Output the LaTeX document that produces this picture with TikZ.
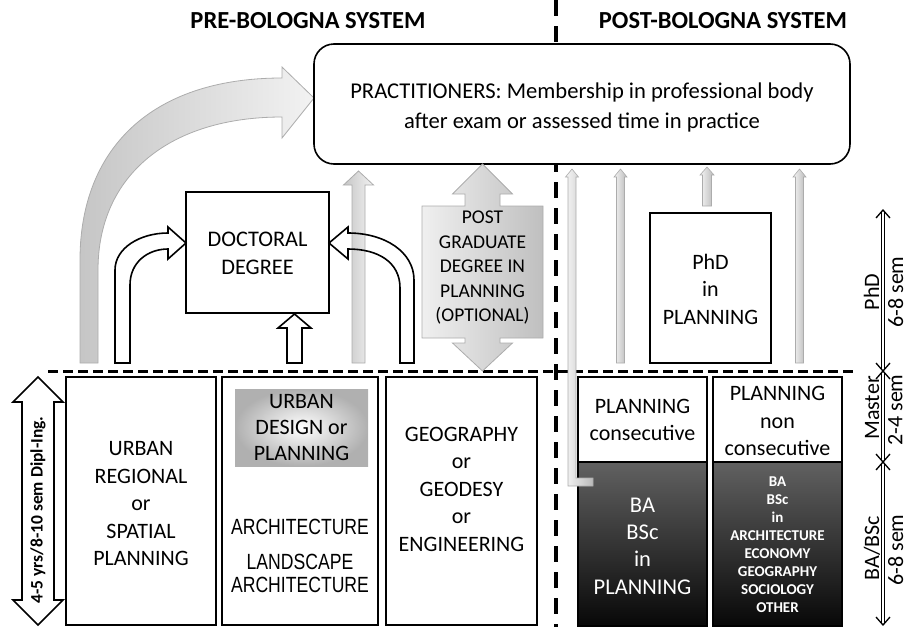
\documentclass[tikz,border=0pt]{standalone}
\usepackage{fontspec}
\setmainfont{Carlito}
\newfontfamily\narrowfont[FakeStretch=0.8]{Liberation Sans}
\usetikzlibrary{calc}
\newcommand\fsz[2]{\fontsize{#1}{#2}\selectfont}
% #1 style, #2 x centre, #3 y bottom, #4 y tip, #5 shaft half width, #6 head half width, #7 head length
\newcommand\myuparrow[7]{%
  \path[#1] ({#2-#5},#3) -- ({#2-#5},{#4+#7}) -- ({#2-#6},{#4+#7}) -- (#2,#4)
    -- ({#2+#6},{#4+#7}) -- ({#2+#5},{#4+#7}) -- ({#2+#5},#3) -- cycle;}
\begin{document}
\begin{tikzpicture}[x=1pt,y=-1pt,
  box/.style={draw, line width=1.6pt, fill=white, inner sep=0pt},
  txt/.style={align=center, inner sep=0pt, font=\fsz{22}{27.5}},
  title/.style={inner sep=0pt, font=\fsz{24.5}{28}\bfseries},
  vdash/.style={line width=3.3pt, dash pattern=on 16pt off 10pt},
  hdash/.style={line width=3pt, dash pattern=on 10pt off 5pt},
  garrow/.style={draw=gray!65, line width=0.8pt, left color=gray!45, right color=gray!10},
  thinarrow/.style={draw=gray!65, line width=0.6pt, left color=gray!8, right color=gray!55},
  warrow/.style={draw=black, line width=1.6pt, fill=white},
  pgarrow/.style={draw=gray!65, line width=0.8pt, left color=gray!12, right color=gray!50},
  darkbox/.style={draw=black, line width=1.2pt, inner sep=0pt, top color=black!62, middle color=black!52, bottom color=black!97},
  dbl/.style={double, double distance=2.4pt, line width=1pt},
  chev/.style={line width=1.3pt},
  rot/.style={rotate=90, inner sep=0pt, font=\fsz{22}{26}}
]
\useasboundingbox (0,0) rectangle (908,627);

% dashed separators
\coordinate (vt) at (556,0); \coordinate (vb) at (556,627);
\draw[vdash] (vt) -- (vb);
\coordinate (hl) at (48,371); \coordinate (hr) at (856,371);
\draw[hdash] (hl) -- (hr);

% titles
\node[title] (t1) at (308,21) {PRE-BOLOGNA SYSTEM};
\node[title] (t2) at (723,21) {POST-BOLOGNA SYSTEM};

% big curved grey arrow
\path[garrow] (80,363) -- (80,260) .. controls (80,150) and (150,78) .. (282,78)
  -- (282,67) -- (314,98) -- (282,138) -- (282,117)
  .. controls (170,117) and (98,175) .. (98,270) -- (98,363) -- cycle;

% practitioners
\node[box, rounded corners=20pt, minimum width=536pt, minimum height=120pt] (prac) at (582,104) {};
\node[txt, font=\fsz{22.6}{30}] (pract) at (582,107) {PRACTITIONERS: Membership in professional body\\after exam or assessed time in practice};

% doctoral degree
\node[box, minimum width=143pt, minimum height=121pt] (doc) at (257.5,252.5) {};
\node[txt, font=\fsz{22.3}{28}] (doct) at (257.5,253.5) {DOCTORAL\\DEGREE};

% white curved arrows into doctoral box
\path[warrow] (115,363) -- (115,270) .. controls (115,248) and (140,233) .. (168,233)
  -- (168,227) -- (186,243) -- (168,259) -- (168,249)
  .. controls (148,249) and (130,262) .. (130,285) -- (130,363) -- cycle;
\path[fill=white] (414,363) -- (414,280) .. controls (414,252) and (385,233) .. (348,233)
  -- (348,227) -- (329,243) -- (348,259) -- (348,249)
  .. controls (378,249) and (400,262) .. (400,288) -- (400,363) -- cycle;
\myuparrow{garrow}{358.5}{363}{171}{6.5}{15}{14}
\path[draw=black, line width=1.6pt] (414,363) -- (414,280) .. controls (414,252) and (385,233) .. (348,233)
  -- (348,227) -- (329,243) -- (348,259) -- (348,249)
  .. controls (378,249) and (400,262) .. (400,288) -- (400,363) -- cycle;
\myuparrow{warrow}{294.5}{363}{314}{7.5}{16.5}{14}

% post graduate double arrow
\path[pgarrow] (482.5,164) -- (512.5,194) -- (500,194) -- (500,206) -- (543,206) -- (543,338)
  -- (500,338) -- (500,343) -- (512.5,343) -- (482.5,371) -- (452.5,343) -- (465,343)
  -- (465,338) -- (422,338) -- (422,206) -- (465,206) -- (465,194) -- (452.5,194) -- cycle;
\node[txt, font=\fsz{19.5}{24.5}] (pgt) at (482.5,268) {POST\\GRADUATE\\DEGREE IN\\PLANNING\\(OPTIONAL)};

% pre-Bologna study boxes
\node[box, minimum width=150pt, minimum height=248pt] (b1) at (141,501) {};
\node[box, minimum width=156pt, minimum height=248pt] (b2) at (300,501) {};
\node[box, minimum width=151pt, minimum height=248pt] (b3) at (461.5,501) {};
\node[txt] (b1t) at (141,504) {URBAN\\REGIONAL\\or\\SPATIAL\\PLANNING};
\node[inner sep=0pt, minimum width=133pt, minimum height=77pt, shading=radial, inner color=white, outer color=gray!62] (ud) at (301.5,427.5) {};
\node[txt, font=\fsz{22}{26}] (udt) at (301.5,428) {URBAN\\DESIGN or\\PLANNING};
\node[txt, font=\narrowfont\fsz{22}{26}] (a1t) at (300,527) {ARCHITECTURE};
\node[txt, font=\narrowfont\fsz{22}{23}] (a2t) at (300,573.5) {LANDSCAPE\\ARCHITECTURE};
\node[txt] (b3t) at (461.5,489) {GEOGRAPHY\\or\\GEODESY\\or\\ENGINEERING};

% left duration arrow
\path[warrow] (38,377) -- (63,402) -- (54,402) -- (54,600) -- (63,600) -- (38,625)
  -- (13,600) -- (22,600) -- (22,402) -- (13,402) -- cycle;
\node[rotate=90, inner sep=0pt, font=\fsz{17.5}{19}\bfseries] (dur) at (38,510) {4-5 yrs/8-10 sem Dipl-Ing.};

% post-Bologna boxes
\node[box, minimum width=121pt, minimum height=150pt] (phd) at (710.5,288) {};
\node[txt] (phdt) at (710.5,289) {PhD\\in\\PLANNING};
\node[box, minimum width=129pt, minimum height=85pt] (m1) at (642.5,419.5) {};
\node[box, minimum width=129pt, minimum height=85pt] (m2) at (777.5,419.5) {};
\node[txt] (m1t) at (642.5,420) {PLANNING\\consecutive};
\node[txt] (m2t) at (777.5,421) {PLANNING\\non\\consecutive};
\node[darkbox, minimum width=129pt, minimum height=164pt] (ba1) at (642.5,544) {};
\node[darkbox, minimum width=129pt, minimum height=164pt] (ba2) at (777.5,544) {};
\node[txt, text=white, font=\fsz{22.5}{27.3}] (ba1t) at (642.5,546) {BA\\BSc\\in\\PLANNING};
\node[txt, text=white, font=\fsz{15}{18}\bfseries] (ba2t) at (777.5,545) {BA\\BSc\\in\\ARCHITECTURE\\ECONOMY\\GEOGRAPHY\\SOCIOLOGY\\OTHER};

% thin grey arrows to practitioners
\path[thinarrow] (568,486) -- (568,177) -- (565.5,177) -- (572,169) -- (578.5,177) -- (576,177)
  -- (576,478) -- (593,478) -- (593,486) -- cycle;
\myuparrow{thinarrow}{620.5}{363}{169}{4}{6.5}{8}
\myuparrow{thinarrow}{707}{206}{167}{4.5}{7}{8}
\myuparrow{thinarrow}{799.5}{363}{169}{4}{6.5}{8}

% duration scale on the right
\coordinate (s0) at (883,210); \coordinate (s1) at (883,371);
\coordinate (s2) at (883,462); \coordinate (s3) at (883,625);
\foreach \a/\b in {s0/s1, s1/s2, s2/s3} {
  \draw[dbl] ($(\a)+(0,2)$) -- ($(\b)+(0,-2)$);
  \draw[chev] ($(\a)+(-7,8)$) -- (\a) -- ($(\a)+(7,8)$);
  \draw[chev] ($(\b)+(-7,-8)$) -- (\b) -- ($(\b)+(7,-8)$);
}
\node[rot, anchor=base] (l1) at (879,292) {PhD};
\node[rot, anchor=north] (r1) at (888,292) {6-8 sem};
\node[rot, anchor=base] (l2) at (879,408) {Master};
\node[rot, anchor=north] (r2) at (888,410) {2-4 sem};
\node[rot, anchor=base] (l3) at (879,548) {BA/BSc};
\node[rot, anchor=north] (r3) at (888,550) {6-8 sem};
\end{tikzpicture}
\end{document}
